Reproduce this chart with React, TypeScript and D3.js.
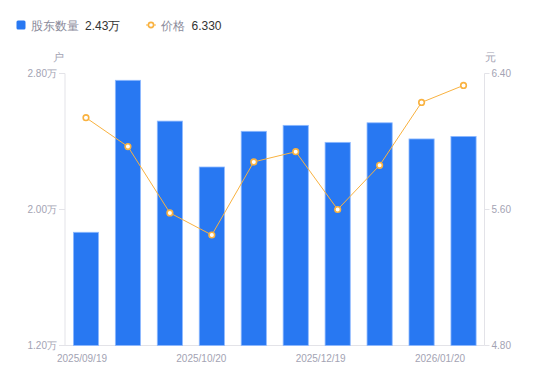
import React from "react";
import * as d3 from "d3";

const categories = ["1", "2", "3", "4", "5", "6", "7", "8", "9", "10"];
const holders = [1.866, 2.76, 2.52, 2.25, 2.46, 2.495, 2.395, 2.51, 2.415, 2.43];
const prices = [6.14, 5.97, 5.58, 5.45, 5.88, 5.94, 5.6, 5.86, 6.23, 6.33];
const xLabels = ["2025/09/19", "2025/10/20", "2025/12/19", "2026/01/20"];
const leftTicks = [1.2, 2.0, 2.8];
const rightTicks = [4.8, 5.6, 6.4];

const W = 550;
const H = 381;
const L = 65;
const R = 484.5;
const T = 73.5;
const B = 345.5;

const axisColor = "#e3e3e8";
const tickColor = "#a3a3b3";
const barColor = "#2878f2";
const lineColor = "#f9b240";
const font = "'Liberation Sans', Arial, sans-serif";

export default function App() {
  const x = d3.scaleBand<string>().domain(categories).range([L, R]).paddingInner(0.4).paddingOuter(0.2);
  const yL = d3.scaleLinear().domain([1.2, 2.8]).range([B, T]);
  const yR = d3.scaleLinear().domain([4.8, 6.4]).range([B, T]);
  const xl = d3.scalePoint<string>().domain(xLabels).range([82, 440]);
  const line = d3
    .line<number>()
    .x((_, i) => (x(categories[i]) as number) + x.bandwidth() / 2)
    .y((d) => yR(d));

  return (
    <svg width={W} height={H} style={{ position: "absolute", left: 0, top: 0, fontFamily: font }}>
      {/* legend */}
      <rect x={16.5} y={20.5} width={9} height={9} rx={1.5} fill={barColor} />
      <text x={31} y={29.5} fontSize={12} fill="#8a8a9a">股东数量</text>
      <text x={85} y={29.5} fontSize={12} fill="#333">2.43万</text>
      <line x1={146} x2={156} y1={25} y2={25} stroke={lineColor} strokeWidth={1} />
      <circle cx={151} cy={25} r={2.6} fill="#fff" stroke={lineColor} strokeWidth={1.6} />
      <text x={161} y={29.5} fontSize={12} fill="#8a8a9a">价格</text>
      <text x={191.5} y={29.5} fontSize={12} fill="#333">6.330</text>

      {/* units */}
      <text x={64} y={61} fontSize={11} fill={tickColor} textAnchor="end">户</text>
      <text x={485} y={61} fontSize={11} fill={tickColor}>元</text>

      {/* axes */}
      <line x1={L} x2={L} y1={T} y2={B} stroke={axisColor} />
      <line x1={R} x2={R} y1={T} y2={B} stroke={axisColor} />
      <line x1={L} x2={R} y1={B} y2={B} stroke={axisColor} />
      {leftTicks.map((t) => (
        <g key={"l" + t}>
          <line x1={L - 6} x2={L} y1={yL(t)} y2={yL(t)} stroke={axisColor} />
          <text x={L - 8} y={yL(t) + 3.5} fontSize={10} fill={tickColor} textAnchor="end">
            {t.toFixed(2)}万
          </text>
        </g>
      ))}
      {rightTicks.map((t) => (
        <g key={"r" + t}>
          <line x1={R} x2={R + 5} y1={yR(t)} y2={yR(t)} stroke={axisColor} />
          <text x={R + 7} y={yR(t) + 3.5} fontSize={10} fill={tickColor}>
            {t.toFixed(2)}
          </text>
        </g>
      ))}
      {xLabels.map((l) => (
        <text key={l} x={xl(l)} y={361.5} fontSize={10} fill={tickColor} textAnchor="middle">
          {l}
        </text>
      ))}

      {/* bars */}
      {holders.map((v, i) => (
        <rect
          key={i}
          x={x(categories[i])}
          y={yL(v)}
          width={x.bandwidth()}
          height={B - yL(v)}
          fill={barColor}
          stroke="#8fbaff"
          strokeWidth={0.8}
        />
      ))}

      {/* line */}
      <path d={line(prices) || ""} fill="none" stroke={lineColor} strokeWidth={1} />
      {prices.map((p, i) => (
        <circle
          key={i}
          cx={(x(categories[i]) as number) + x.bandwidth() / 2}
          cy={yR(p)}
          r={2.8}
          fill="#fff"
          stroke={lineColor}
          strokeWidth={1.6}
        />
      ))}
    </svg>
  );
}
